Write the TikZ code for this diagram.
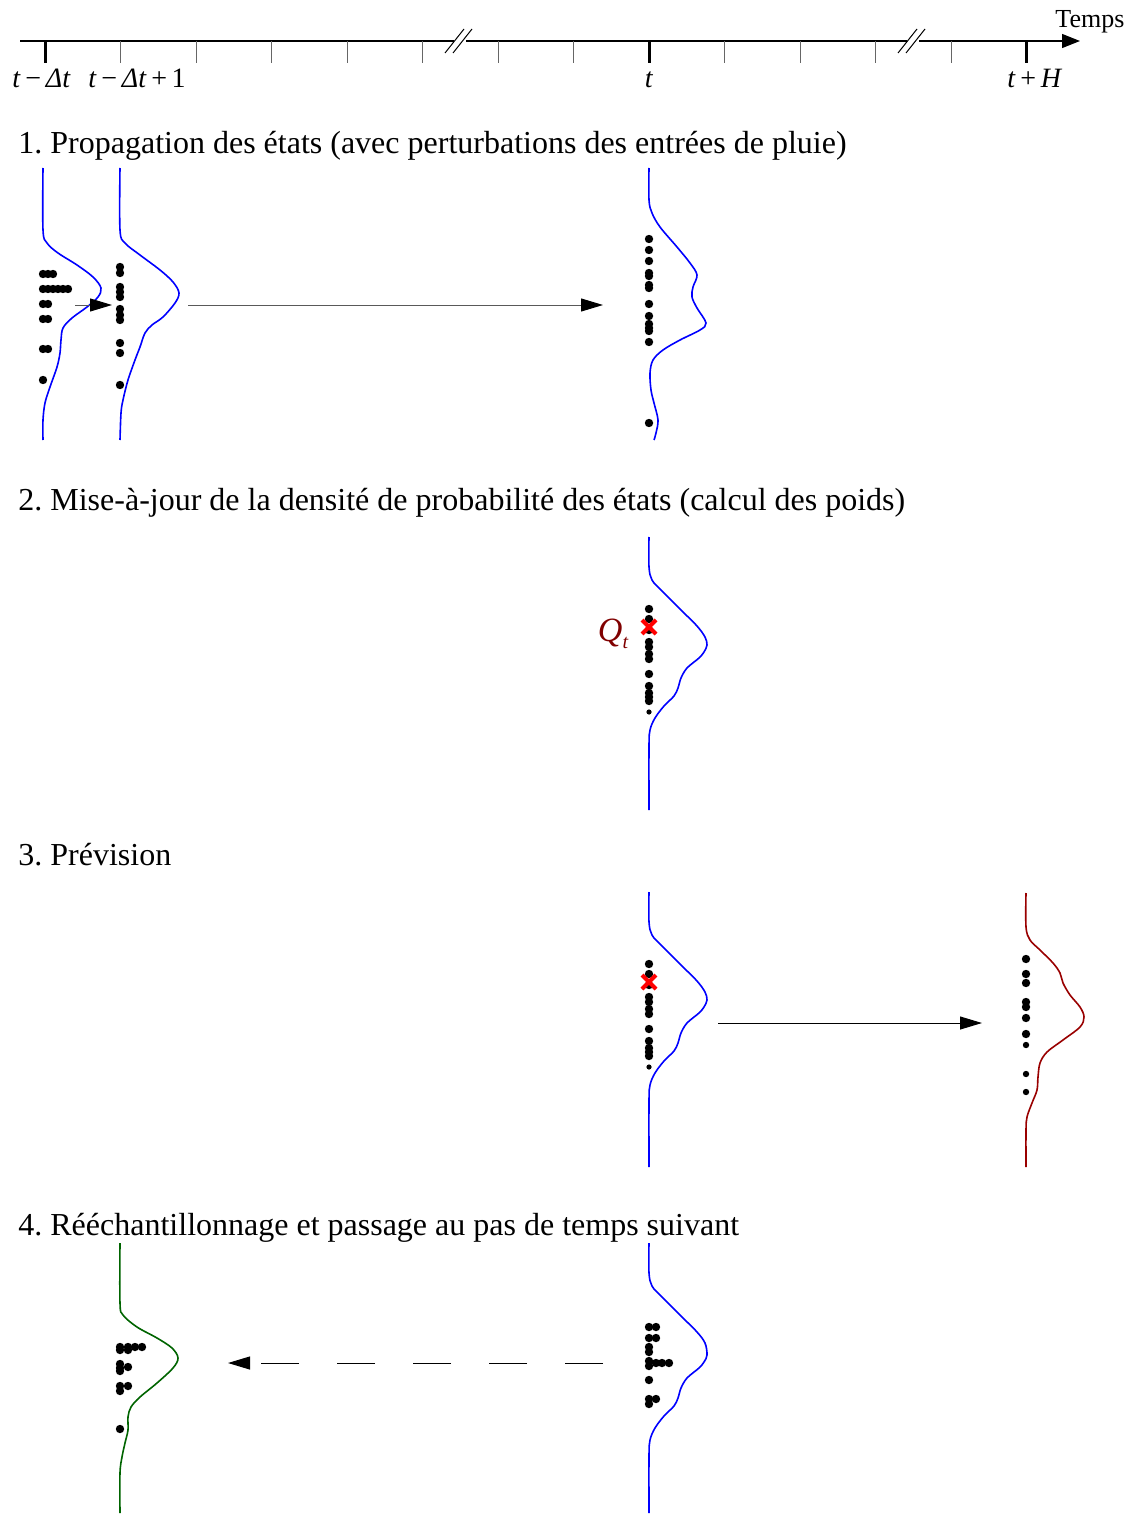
\documentclass[tikz,border=0pt]{standalone}
\usepackage{fontspec}
\setmainfont{Liberation Serif}
\usetikzlibrary{arrows.meta}
\definecolor{densblue}{HTML}{0000FF}
\definecolor{fcstred}{HTML}{990000}
\definecolor{resgreen}{HTML}{006400}
\definecolor{obsred}{HTML}{FF0000}
\definecolor{obsdark}{HTML}{800000}
\frenchspacing

\begin{document}
\begin{tikzpicture}[
    x=0.5pt, y=-0.5pt,
    font=\fontsize{16}{19}\selectfont,
    title/.style={anchor=base west, inner sep=0pt},
    tlbl/.style={anchor=base, inner sep=0pt, font=\fontsize{14}{16}\selectfont},
    thintick/.style={line width=0.5pt, black!60},
    keytick/.style={line width=1.5pt},
    dens/.style={line width=0.8pt},
    arr/.style={-{Triangle[length=11pt, width=6.5pt, color=black]}, line width=0.5pt},
    obs/.style={obsred, line width=2pt},
    ptcl/.style={fill=black}
]
\useasboundingbox (0,0) rectangle (1131,1514);

% --- Time axis with two breaks ---
\coordinate (axstart) at (20,41);
\coordinate (axend) at (1080,41);
\draw[line width=0.6pt] (axstart) -- (454,41);
\draw[line width=0.6pt] (466,41) -- (907,41);
\draw[line width=0.6pt, -{Triangle[length=9pt, width=7pt]}] (919,41) -- (axend);
\foreach \cx in {460,913}
  \draw[line width=0.5pt] (\cx-15,53) -- (\cx+4,29) (\cx-7,53) -- (\cx+12,29);
\foreach \k in {1,...,7,9,10,11,12}
  \draw[thintick] (45+75.5*\k,41) -- (45+75.5*\k,63);
\foreach \k in {0,8,13}
  \draw[keytick] (45+75.5*\k,41) -- (45+75.5*\k,63);

\node[tlbl, anchor=base west] (lblstart) at (12,88) {\textit{t}\,−\,\textit{Δt}};
\node[tlbl, anchor=base west] (lblnext) at (88,88) {\textit{t}\,−\,\textit{Δt}\,+\,1};
\node[tlbl] (lblnow) at (649,88) {\textit{t}};
\node[tlbl, anchor=base west] (lblhor) at (1007,88) {\textit{t}\,+\,\textit{H}};
\node[tlbl, anchor=base west, font=\fontsize{13}{15}\selectfont] (temps) at (1055,28) {Temps};

% --- Step titles ---
\node[title] (step1) at (18,154) {1. Propagation des états (avec perturbations des entrées de pluie)};
\node[title] (step2) at (18,510) {2. Mise-à-jour de la densité de probabilité des états (calcul des poids)};
\node[title] (step3) at (18,865) {3. Prévision};
\node[title] (step4) at (18,1235) {4. Rééchantillonnage et passage au pas de temps suivant};

% --- Step 1: propagation ---
\draw[dens, densblue] plot[smooth, tension=0.55] coordinates {(43,168) (43,230) (47,243) (58,253) (77,265) (93,277) (101,288) (98,297) (87,307) (72,318) (63,328) (61,340) (60,353) (57,367) (50,387) (45,403) (43,420) (43,440)};
\draw[dens, densblue] plot[smooth, tension=0.55] coordinates {(120,168) (120,230) (125,243) (140,255) (160,270) (173,282) (179,293) (175,303) (163,317) (152,325) (145,333) (140,347) (135,360) (128,380) (123,400) (121,413) (120,440)};
\draw[dens, densblue] plot[smooth, tension=0.55] coordinates {(649,168) (649,200) (652,213) (660,227) (677,247) (690,263) (697,275) (693,287) (692,297) (697,308) (706,323) (700,330) (680,340) (663,350) (653,360) (650,373) (651,390) (654,403) (658,420) (656,433) (654,440)};

\foreach \px/\py in {43/274,48/274,53/274, 43/289,48/289,53/289,58/289,63/289,68/289,
                     43/304,48/304, 43/319,48/319, 43/349,48/349, 43/380}
  \fill[ptcl] (\px,\py) circle[radius=2.1pt];
\foreach \py in {267,273,287,292,297,309,315,320,343,353,385}
  \fill[ptcl] (120,\py) circle[radius=2.1pt];
\foreach \py in {239,250,261,273,276,285,288,304,316,324,328,331,342,423}
  \fill[ptcl] (649,\py) circle[radius=2.1pt];

\coordinate (a1s) at (75,305);
\coordinate (a1e) at (112,305);
\coordinate (a2s) at (188,305);
\coordinate (a2e) at (603,305);
\draw[arr, black!65] (a1s) -- (a1e);
\draw[arr, black!65] (a2s) -- (a2e);

% --- Step 2: weights from the observation ---
\begin{scope}[shift={(649,537)}]
\draw[dens, densblue] plot[smooth, tension=0.55] coordinates {(0,0) (0,30) (3,43) (12,53) (32,73) (48,89) (56,100) (58,108) (55,115) (50,121) (38,131) (32,141) (29,151) (25,159) (15,169) (6,181) (1,193) (0,209) (0,273)};
\end{scope}
\foreach \py in {609,619,630,642,647,654,659,674,686,693,697,701}
  \fill[ptcl] (649,\py) circle[radius=2.1pt];
\fill[ptcl] (649,712) circle[radius=1.3pt];
\draw[obs] (642,620) -- (656,634) (642,634) -- (656,620);
\node[obsdark, font=\fontsize{17}{20}\selectfont\itshape, inner sep=0pt] (qobs) at (613,634)
  {Q\raisebox{-0.45ex}{\fontsize{10}{12}\selectfont t}};

% --- Step 3: forecast ---
\begin{scope}[shift={(649,892)}]
\draw[dens, densblue] plot[smooth, tension=0.55] coordinates {(0,0) (0,30) (3,43) (12,53) (32,73) (48,89) (56,100) (58,108) (55,115) (50,121) (38,131) (32,141) (29,151) (25,159) (15,169) (6,181) (1,193) (0,209) (0,275)};
\end{scope}
\foreach \py in {964,974,985,997,1002,1009,1014,1029,1041,1048,1052,1056}
  \fill[ptcl] (649,\py) circle[radius=2.1pt];
\fill[ptcl] (649,1067) circle[radius=1.3pt];
\draw[obs] (642,975) -- (656,989) (642,989) -- (656,975);

\coordinate (a3s) at (718,1023);
\coordinate (a3e) at (982,1023);
\draw[arr] (a3s) -- (a3e);

\draw[dens, fcstred] plot[smooth, tension=0.55] coordinates {(1026,893) (1026,927) (1030,940) (1040,950) (1053,963) (1060,973) (1063,983) (1070,995) (1080,1007) (1084,1017) (1080,1027) (1063,1040) (1047,1052) (1040,1063) (1038,1077) (1037,1090) (1032,1103) (1027,1117) (1026,1130) (1026,1167)};
\foreach \py in {959,974,983,1002,1007,1018,1034}
  \fill[ptcl] (1026,\py) circle[radius=2.1pt];
\foreach \py in {1045,1074,1092}
  \fill[ptcl] (1026,\py) circle[radius=1.6pt];

% --- Step 4: resampling ---
\begin{scope}[shift={(649,1243)}]
\draw[dens, densblue] plot[smooth, tension=0.55] coordinates {(0,0) (0,30) (3,43) (12,53) (32,73) (48,89) (56,100) (58,112) (55,119) (50,125) (38,135) (32,145) (29,155) (25,163) (15,173) (6,185) (1,197) (0,213) (0,270)};
\end{scope}
\foreach \px/\py in {649/1327,656/1327, 649/1338,656/1338, 649/1347,649/1352,
                     649/1361,649/1366,656/1363,662/1363,669/1363, 649/1380,
                     649/1399,649/1404,656/1399}
  \fill[ptcl] (\px,\py) circle[radius=2.1pt];

\draw[dens, resgreen] plot[smooth, tension=0.55] coordinates {(120,1243) (120,1303) (123,1315) (137,1327) (157,1338) (172,1348) (178,1358) (173,1368) (157,1383) (140,1397) (131,1407) (128,1417) (128,1430) (125,1443) (122,1457) (120,1473) (120,1513)};
\foreach \px/\py in {120/1347,120/1350,128/1347,128/1350,135/1347,142/1347,
                     120/1364,120/1368,120/1371,128/1367,
                     120/1386,128/1386,120/1391, 120/1429}
  \fill[ptcl] (\px,\py) circle[radius=2.1pt];

\coordinate (a4s) at (603,1363);
\coordinate (a4e) at (228,1363);
\draw[arr, dash pattern=on 19pt off 19pt] (a4s) -- (a4e);

\end{tikzpicture}
\end{document}
